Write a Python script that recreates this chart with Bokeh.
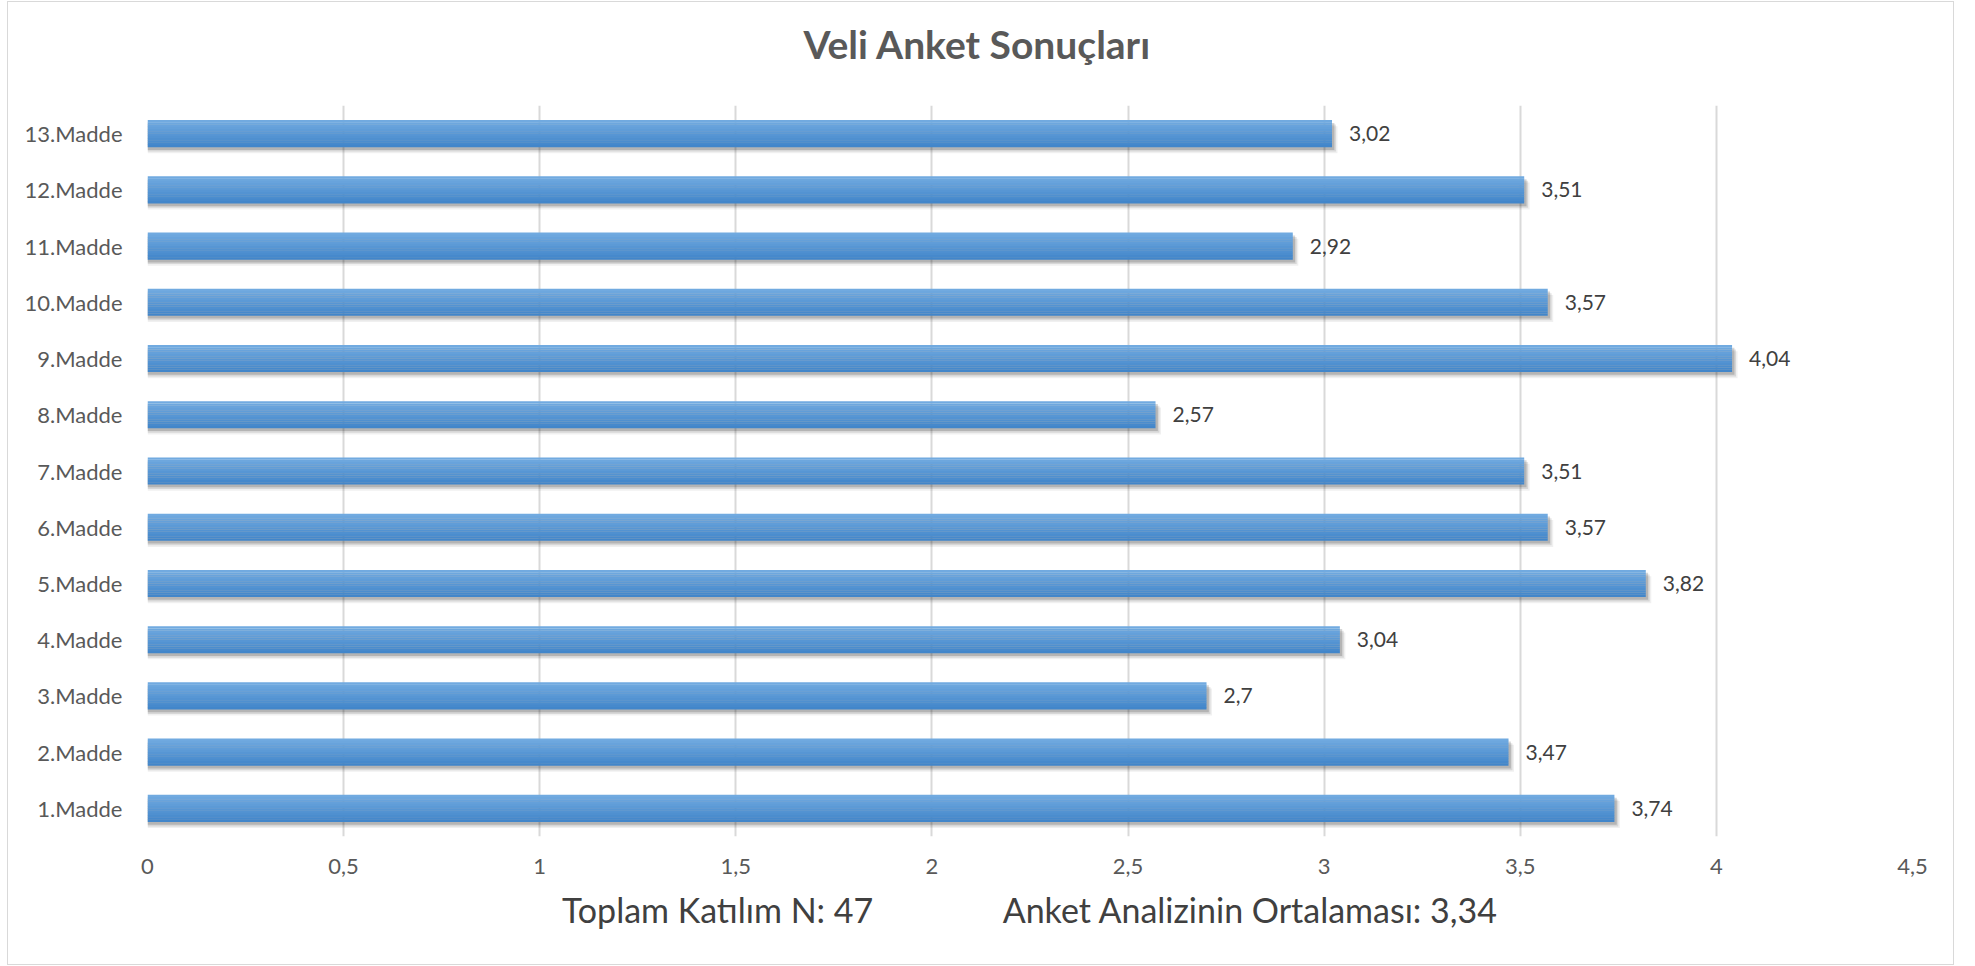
from bokeh.plotting import figure
from bokeh.models import (FactorRange, Range1d, FixedTicker, CustomJSTickFormatter,
                          ColumnDataSource, Title)
from bokeh.transform import dodge
from bokeh.core.properties import value
from bokeh.embed import file_html
from bokeh.resources import INLINE

# ---- data ----
categories = ["1.Madde", "2.Madde", "3.Madde", "4.Madde", "5.Madde", "6.Madde", "7.Madde",
              "8.Madde", "9.Madde", "10.Madde", "11.Madde", "12.Madde", "13.Madde"]
scores = [3.74, 3.47, 2.70, 3.04, 3.82, 3.57, 3.51, 2.57, 4.04, 3.57, 2.92, 3.51, 3.02]
x_ticks = [0, 0.5, 1, 1.5, 2, 2.5, 3, 3.5, 4, 4.5]
title_text = "Veli Anket Sonuçları"
footer_left = "Toplam Katılım N: 47"
footer_right = "Anket Analizinin Ortalaması: 3,34"

labels = [("%g" % v).replace(".", ",") for v in scores]
src = ColumnDataSource(dict(cat=categories, val=scores, lbl=labels))

FONT = "Lato"
W, H = 1947, 964

p = figure(width=W, height=H, output_backend="svg", toolbar_location=None,
           y_range=FactorRange(factors=categories, range_padding=0),
           x_range=Range1d(0, 4.5),
           min_border_left=139, min_border_right=43, min_border_top=103,
           min_border_bottom=130)
p.styles = {"border": "1px solid #d9d9d9", "margin-left": "7px", "margin-top": "1px"}

# invisible spacer between the title and the plot area
spacer = Title(text="\u00a0", text_font_size="2px", text_color="white", standoff=29)
p.add_layout(spacer, "above")

# title
p.title.text = title_text
p.title.align = "left"
p.title.offset = 656
p.title.vertical_align = "top"
p.title.text_font = FONT
p.title.text_font_size = "39px"
p.title.text_font_style = "bold"
p.title.text_color = "#595959"
p.title.standoff = 8

p.outline_line_color = None
p.background_fill_color = "white"
p.border_fill_color = "white"

# grid
p.ygrid.grid_line_color = None
p.xgrid.grid_line_color = "#d9d9d9"
p.xgrid.grid_line_width = 2
p.xgrid.ticker = FixedTicker(ticks=x_ticks)

# axes
p.xaxis.ticker = FixedTicker(ticks=x_ticks)
p.xaxis.formatter = CustomJSTickFormatter(code="return String(tick).replace('.', ',');")
for ax in (p.xaxis[0], p.yaxis[0]):
    ax.axis_line_color = None
    ax.major_tick_line_color = None
    ax.minor_tick_line_color = None
    ax.major_label_text_font = FONT
    ax.major_label_text_font_size = "22px"
    ax.major_label_text_color = "#595959"
p.xaxis.major_label_standoff = 16
p.yaxis.major_label_standoff = 19

gap = "\u00a0" * 15
p.xaxis.axis_label = footer_left + gap + footer_right
p.xaxis.axis_label_text_font = FONT
p.xaxis.axis_label_text_font_size = "34px"
p.xaxis.axis_label_text_font_style = "normal"
p.xaxis.axis_label_text_color = "#404040"
p.xaxis.axis_label_standoff = 12

BAR_H = 0.48
rng = p.y_range

# shadow (soft, below-right)
for off, a, extra in [(-0.11, 0.06, 0.014), (-0.08, 0.10, 0.010), (-0.05, 0.16, 0.006)]:
    p.hbar(y=dodge("cat", off, range=rng), left=0, right=dodge("val", extra),
           height=BAR_H, source=src, fill_color="#000000", fill_alpha=a, line_color=None)

# gradient bar
top = (0x71, 0xaa, 0xe0)
bot = (0x42, 0x86, 0xca)
N = 12
sh = BAR_H / N
for i in range(N):
    t = i / (N - 1)
    c = tuple(int(round(top[k] + (bot[k] - top[k]) * t)) for k in range(3))
    col = "#%02x%02x%02x" % c
    off = BAR_H / 2 - sh * (i + 0.5)
    p.hbar(y=dodge("cat", off, range=rng), left=0, right="val", height=sh * 1.05,
           source=src, fill_color=col, line_color=None)

# data labels
p.text(x="val", y="cat", text="lbl", source=src, x_offset=17,
       text_baseline="middle", text_align="left",
       text_font=value(FONT), text_font_size="21px", text_color="#404040")

open("out.html", "w").write(file_html(p, INLINE))
